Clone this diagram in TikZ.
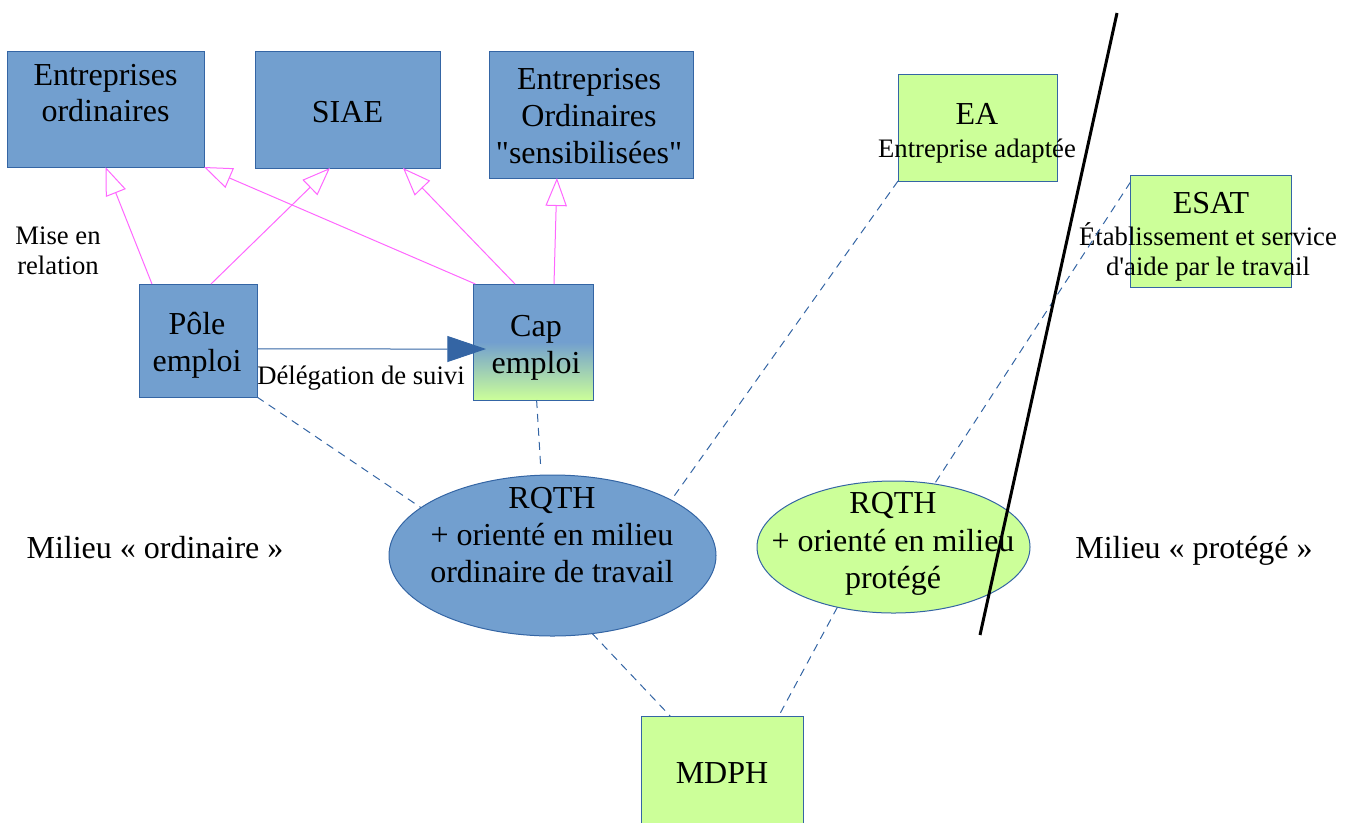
\documentclass[tikz,border=0pt]{standalone}
\usepackage{fontspec}
\setmainfont{Liberation Serif}[Ligatures=TeXOff]
\usetikzlibrary{shapes.geometric,arrows.meta,calc}
\definecolor{lblue}{HTML}{729FCF}
\definecolor{dblue}{HTML}{3465A4}
\definecolor{lgreen}{HTML}{CCFF99}
\definecolor{pinkc}{HTML}{FF66FF}
\newcommand{\bigfnt}{\fontsize{24}{27.5}\selectfont}
\newcommand{\ellfnt}{\fontsize{24}{28}\selectfont}
\newcommand{\smallfnt}{\fontsize{20}{22.5}\selectfont}
\begin{document}
\begin{tikzpicture}[x=0.75pt,y=-0.75pt,
  box/.style 2 args={rectangle, draw=dblue, line width=0.75pt, inner sep=0pt, outer sep=0pt,
     minimum width=#1*0.75pt, minimum height=#2*0.75pt},
  ellbox/.style 2 args={ellipse, draw=dblue, line width=0.75pt, inner sep=0pt, outer sep=0pt,
     minimum width=#1*0.75pt, minimum height=#2*0.75pt},
  bluefill/.style={fill=lblue},
  greenfill/.style={fill=lgreen},
  txt/.style={inner sep=0pt, align=center, font=\bigfnt},
  etxt/.style={inner sep=0pt, align=center, font=\ellfnt},
  stxt/.style={inner sep=0pt, align=center, font=\smallfnt},
  rel/.style={draw=pinkc, line width=0.75pt, -{Triangle[open, length=21pt, width=16pt]}},
  deleg/.style={draw=dblue, line width=0.75pt, -{Triangle[length=29pt, width=19.5pt, fill=dblue]}},
  lnk/.style={draw=dblue, line width=0.75pt, dash pattern=on 6pt off 4.5pt},
  sep/.style={draw=black, line width=2.25pt},
]
\useasboundingbox (0,0) rectangle (1351,822);
\clip (0,0) rectangle (1351,822);

% boxes
\node[box={197}{116}, bluefill] (b1) at (105.5,109) {};
\node[txt] (t1) at (105.5,93) {Entreprises\\ordinaires};
\node[box={185}{117}, bluefill] (b2) at (347.5,109.5) {};
\node[txt] (t2) at (347.5,112) {SIAE};
\node[box={204}{127}, bluefill] (b3) at (591,114.5) {};
\node[txt] (t3) at (589,116) {Entreprises\\Ordinaires\\"sensibilisées"};

\node[box={118}{113}, bluefill] (pole) at (198,340.5) {};
\node[txt] (tpole) at (197,345) {Pôle\\emploi};
\node[box={120}{116}, top color=lblue, bottom color=lgreen, middle color=lblue] (cap) at (533,342) {};
\node[txt] (tcap) at (536,348) {Cap\\emploi};

\node[box={159}{107}, greenfill] (ea) at (977.5,127.5) {};
\node[txt] (tea) at (977,114) {EA};
\node[stxt] (tea2) at (977,151) {Entreprise adaptée};
\node[box={161}{112}, greenfill] (esat) at (1211,231) {};
\node[txt] (tesat) at (1211,203) {ESAT};
\node[stxt] (tesat2) at (1208,252) {Établissement et service\\d'aide par le travail};

\node[box={162}{120}, greenfill] (mdph) at (722,776) {};
\node[txt] (tmdph) at (722,773) {MDPH};

\node[ellbox={327}{161}, bluefill] (e1) at (552.5,555.5) {};
\node[etxt] (te1) at (552,535) {RQTH\\+ orienté en milieu\\ordinaire de travail};
\node[ellbox={273}{132}, greenfill] (e2) at (893.5,547) {};
\node[etxt] (te2) at (893,544) {RQTH\\+ orienté en milieu\\protégé};

% labels
\node[stxt] (lmise) at (58,251) {Mise en\\relation};
\node[stxt] (ldeleg) at (361,378) {Délégation de suivi};
\node[txt] (lord) at (155,548) {Milieu « ordinaire »};
\node[txt] (lprot) at (1194,551) {Milieu « protégé »};

% relation arrows
\draw[rel] ($(pole.north west)!0.11!(pole.north east)$) -- (b1.south);
\draw[rel] ($(pole.north west)!0.61!(pole.north east)$) -- ($(b2.south west)!0.405!(b2.south east)$);
\draw[rel] ($(cap.north west)!0.02!(cap.north east)$) -- (b1.south east);
\draw[rel] ($(cap.north west)!0.35!(cap.north east)$) -- ($(b2.south west)!0.8!(b2.south east)$);
\draw[rel] ($(cap.north west)!0.675!(cap.north east)$) -- ($(b3.south west)!0.333!(b3.south east)$);

% delegation
\draw[deleg] ($(pole.north east)!0.575!(pole.south east)$) -- ($(cap.north west)+(13,65)$);

% dashed links
\draw[lnk] (pole.south east) -- (e1.160);
\draw[lnk, shorten >=5pt] ($(cap.south west)!0.53!(cap.south east)$) -- (e1.98);
\draw[lnk] (ea.south west) -- (e1.25);
\draw[lnk] ($(esat.north west)+(0,7)$) -- (e2.57);
\draw[lnk] (e1.297) -- ($(mdph.north west)!0.18!(mdph.north east)$);
\draw[lnk] (e2.227) -- ($(mdph.north west)!0.85!(mdph.north east)$);

% separator
\coordinate (septop) at (1117,13);
\coordinate (sepbot) at (980,635);
\draw[sep] (septop) -- (sepbot);
\end{tikzpicture}
\end{document}
